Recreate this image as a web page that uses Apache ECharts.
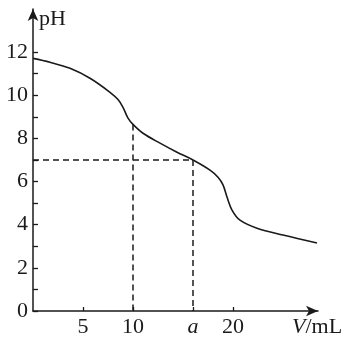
<!DOCTYPE html>
<html>
<head>
<meta charset="utf-8">
<script src="https://cdn.jsdelivr.net/npm/echarts@6/dist/echarts.min.js"></script>
<style>html,body{margin:0;padding:0;background:#fff}#c{width:345px;height:338px}</style>
</head>
<body>
<div id="c"></div>
<script>
// Titration curve: added volume V (mL) vs pH
var volumes = [0, 1.7, 3.7, 5.7, 7.7, 8.5, 9.0, 9.5, 10.0, 11.0, 12.7, 14.4, 16.0, 17.7, 18.5, 19.0, 19.4, 19.9, 20.7, 22.4, 25.0, 28.4];
var phValues = [11.71, 11.53, 11.25, 10.79, 10.14, 9.8, 9.44, 8.94, 8.65, 8.24, 7.78, 7.36, 7.0, 6.53, 6.2, 5.85, 5.28, 4.68, 4.21, 3.84, 3.52, 3.15];

var yTickValues = [0, 1, 2, 3, 4, 5, 6, 7, 8, 9, 10, 11, 12];
var yLabelValues = [0, 2, 4, 6, 8, 10, 12];
var xTickValues = [5, 10, 16, 20];
var xTickLabels = ['5', '10', 'a', '20'];

var aVolume = 16;      // volume "a"
var aPH = 7;           // pH at a
var markVolume = 10;   // 10 mL
var markPH = 8.65;     // pH at 10 mL

var curve = volumes.map(function (v, i) { return [v, phValues[i]]; });
var serif = '"Liberation Serif", "DejaVu Serif", serif';
var ink = '#1a1a1a';

var chart = echarts.init(document.getElementById('c'), null, {renderer: 'canvas'});
chart.setOption({
  animation: false,
  backgroundColor: '#fff',
  grid: {left: 33, right: 27, top: 9, bottom: 27, containLabel: false, outerBoundsMode: 'none'},
  xAxis: {
    type: 'value', min: 0, max: 28.5,
    splitLine: {show: false},
    axisLine: {lineStyle: {color: ink, width: 1.5}, symbol: ['none', 'arrow'], symbolSize: [8, 12]},
    axisTick: {show: true, inside: true, length: 4, lineStyle: {color: ink, width: 1.3}, customValues: xTickValues},
    axisLabel: {
      customValues: xTickValues,
      margin: 5,
      color: ink, fontFamily: serif, fontSize: 22,
      formatter: function (v) {
        var i = xTickValues.indexOf(v);
        var t = i >= 0 ? xTickLabels[i] : '';
        return t === 'a' ? '{i|a}' : t;
      },
      rich: {i: {fontStyle: 'italic', fontFamily: serif, fontSize: 22, color: ink}}
    },
    name: '{i|V}/mL',
    nameLocation: 'end',
    nameGap: -26,
    nameTextStyle: {
      color: ink, fontFamily: serif, fontSize: 22, align: 'left', verticalAlign: 'top', padding: [5, 0, 0, 0],
      rich: {i: {fontStyle: 'italic', fontFamily: serif, fontSize: 22, color: ink}}
    }
  },
  yAxis: {
    type: 'value', min: 0, max: 14,
    splitLine: {show: false},
    axisLine: {lineStyle: {color: ink, width: 1.5}, symbol: ['none', 'arrow'], symbolSize: [8, 12]},
    axisTick: {show: true, inside: true, length: 5, lineStyle: {color: ink, width: 1.3}, customValues: yTickValues},
    axisLabel: {customValues: yLabelValues, margin: 5, color: ink, fontFamily: serif, fontSize: 22},
    name: 'pH',
    nameLocation: 'end',
    nameGap: -10,
    nameTextStyle: {color: ink, fontFamily: serif, fontSize: 22, align: 'left', verticalAlign: 'middle', padding: [0, 0, 0, 6]}
  },
  series: [
    {type: 'line', data: curve, smooth: 0.35, showSymbol: false, symbol: 'none',
     lineStyle: {color: ink, width: 1.6}, z: 3},
    {type: 'line', data: [[0, aPH], [aVolume, aPH]], symbol: 'none',
     lineStyle: {color: ink, width: 1.5, type: [6, 4]}},
    {type: 'line', data: [[aVolume, aPH], [aVolume, 0]], symbol: 'none',
     lineStyle: {color: ink, width: 1.5, type: [6, 4]}},
    {type: 'line', data: [[markVolume, markPH], [markVolume, 0]], symbol: 'none',
     lineStyle: {color: ink, width: 1.5, type: [6, 4]}}
  ]
});
</script>
</body>
</html>
